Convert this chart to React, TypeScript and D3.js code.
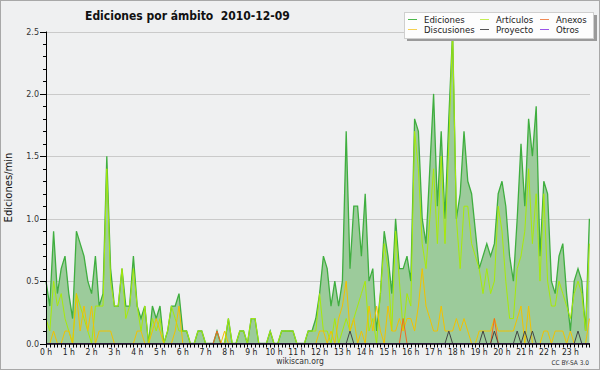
import React, { useEffect } from "react";
import * as d3 from "d3";

// 10-minute bins, values in edits per minute
const ediciones = [
  0.5, 0.3, 0.9, 0.4, 0.6, 0.7, 0.4, 0.2, 0.9, 0.8,
  0.7, 0.5, 0.4, 0.7, 0.3, 0.4, 1.5, 0.6, 0.3, 0.3,
  0.6, 0.3, 0.3, 0.7, 0.3, 0.2, 0.3, 0, 0.3, 0.2,
  0.3, 0, 0.1, 0.3, 0.3, 0.4, 0.1, 0.1, 0, 0,
  0.1, 0.1, 0, 0, 0, 0.1, 0, 0, 0.2, 0,
  0, 0.1, 0.1, 0, 0.2, 0.2, 0, 0, 0, 0.1,
  0, 0, 0.1, 0.1, 0.1, 0.1, 0, 0, 0, 0.1,
  0.1, 0.2, 0.4, 0.7, 0.6, 0.3, 0.5, 0.3, 0.5, 1.7,
  0.6, 1.1, 1.1, 0.7, 1.2, 0.5, 0.6, 0.1, 0.4, 0.9,
  0.7, 0.4, 1.0, 0.6, 0.6, 0.7, 0.5, 1.8, 1.7, 1.0,
  0.8, 1.4, 2.0, 1.1, 1.7, 1.0, 1.8, 2.5, 1.0, 1.2,
  1.7, 1.3, 1.2, 0.9, 0.6, 0.7, 0.8, 0.7, 0.8, 1.2,
  1.3, 1.1, 0.7, 0.5, 1.0, 1.6, 1.1, 1.8, 1.5, 1.9,
  0.7, 1.3, 1.2, 0.5, 0.4, 0.7, 0.8, 0.4, 0.1, 0.5,
  0.6, 0.5, 0.1, 1.0,
];

const articulos = [
  0.2, 0.1, 0.5, 0.3, 0.4, 0.2, 0.1, 0, 0.4, 0.3,
  0.2, 0.1, 0, 0.3, 0.3, 0.3, 1.4, 0.5, 0.3, 0.3,
  0.6, 0.2, 0.3, 0.6, 0.3, 0.1, 0.3, 0, 0.2, 0.1,
  0.2, 0, 0.1, 0.3, 0.2, 0.1, 0.1, 0.1, 0, 0,
  0.1, 0.1, 0, 0, 0, 0, 0, 0, 0.2, 0,
  0, 0.1, 0.1, 0, 0.2, 0.2, 0, 0, 0, 0.1,
  0, 0, 0.1, 0.1, 0.1, 0.1, 0, 0, 0, 0.1,
  0.1, 0.1, 0.4, 0.1, 0.1, 0, 0.2, 0, 0.1, 0.2,
  0.1, 0.2, 0.3, 0.4, 0.5, 0.1, 0.2, 0, 0.4, 0.8,
  0.6, 0.1, 0.9, 0.5, 0.1, 0.4, 0.3, 1.7, 1.4, 0.8,
  0.6, 1.0, 1.4, 0.8, 1.5, 0.8, 1.6, 2.5, 1.0, 0.6,
  1.1, 1.1, 0.8, 0.7, 0.6, 0.4, 0.6, 0.4, 0.5, 1.1,
  0.9, 0.5, 0.2, 0.2, 0.6, 0.7, 0.9, 1.4, 0.8, 1.2,
  0.5, 1.2, 0.5, 0.3, 0.3, 0.5, 0.4, 0.3, 0.2, 0.4,
  0.5, 0.4, 0.1, 0.8,
];

const discusiones = [
  0, 0, 0.1, 0, 0, 0.1, 0.1, 0, 0.4, 0.1,
  0.3, 0.1, 0.3, 0, 0.1, 0.1, 0.1, 0.1, 0, 0,
  0, 0, 0, 0, 0.1, 0.1, 0, 0, 0.1, 0.2,
  0.1, 0, 0, 0, 0.1, 0.3, 0, 0, 0, 0,
  0, 0, 0, 0, 0, 0, 0, 0.1, 0, 0,
  0, 0, 0, 0, 0, 0, 0, 0, 0, 0,
  0, 0, 0, 0, 0, 0, 0, 0, 0, 0,
  0, 0, 0.1, 0.1, 0, 0.1, 0, 0.2, 0.3, 0.5,
  0.1, 0.2, 0, 0.1, 0, 0.3, 0.1, 0.3, 0.1, 0,
  0.3, 0.1, 0.1, 0.2, 0.1, 0.2, 0.2, 0.1, 0.3, 0.6,
  0.3, 0.2, 0.1, 0.1, 0.3, 0.1, 0.1, 0.1, 0.2, 0.1,
  0.2, 0.1, 0, 0, 0.1, 0.1, 0.1, 0.1, 0.2, 0.1,
  0.1, 0.1, 0.1, 0.1, 0.2, 0.3, 0, 0.3, 0, 0,
  0, 0.1, 0.1, 0, 0.1, 0.1, 0.1, 0, 0.1, 0,
  0, 0, 0, 0.2,
];

const anexos = [
  0, 0, 0, 0, 0, 0, 0, 0, 0, 0,
  0, 0, 0, 0, 0, 0, 0, 0, 0, 0,
  0, 0, 0, 0, 0, 0, 0, 0, 0, 0,
  0, 0, 0, 0, 0, 0, 0, 0, 0, 0,
  0, 0, 0, 0, 0, 0.1, 0, 0, 0, 0,
  0, 0, 0, 0, 0, 0, 0, 0, 0, 0,
  0, 0, 0, 0, 0, 0, 0, 0, 0, 0,
  0, 0, 0, 0, 0, 0, 0, 0, 0, 0,
  0, 0, 0, 0, 0, 0, 0, 0, 0, 0,
  0, 0, 0, 0, 0.2, 0, 0, 0, 0, 0,
  0, 0, 0, 0, 0, 0, 0, 0, 0, 0,
  0, 0, 0, 0, 0, 0, 0, 0, 0.2, 0,
  0, 0, 0, 0, 0, 0, 0, 0, 0, 0,
  0, 0, 0, 0, 0, 0, 0, 0, 0, 0,
  0, 0, 0, 0,
];

const proyecto = [
  0, 0, 0, 0, 0, 0, 0, 0, 0, 0,
  0, 0, 0, 0, 0, 0, 0, 0, 0, 0,
  0, 0, 0, 0, 0, 0, 0, 0, 0, 0,
  0, 0, 0, 0, 0, 0, 0, 0, 0, 0,
  0, 0, 0, 0, 0, 0, 0, 0, 0, 0,
  0, 0, 0, 0, 0, 0, 0, 0, 0, 0,
  0, 0, 0, 0, 0, 0, 0, 0, 0, 0,
  0, 0, 0, 0, 0, 0, 0, 0, 0, 0,
  0.1, 0, 0, 0, 0, 0, 0, 0, 0, 0,
  0, 0, 0, 0, 0, 0, 0, 0, 0, 0,
  0, 0, 0, 0, 0, 0, 0.1, 0, 0, 0,
  0, 0, 0, 0, 0, 0.1, 0, 0, 0.1, 0,
  0, 0, 0, 0, 0.1, 0, 0.1, 0, 0.1, 0,
  0, 0, 0, 0, 0, 0, 0, 0, 0, 0,
  0.1, 0, 0, 0,
];

const otros = [
  0, 0, 0, 0, 0, 0, 0, 0, 0, 0,
  0, 0, 0, 0, 0, 0, 0, 0, 0, 0,
  0, 0, 0, 0, 0, 0, 0, 0, 0, 0,
  0, 0, 0, 0, 0, 0, 0, 0, 0, 0,
  0, 0, 0, 0, 0, 0, 0, 0, 0, 0,
  0, 0, 0, 0, 0, 0, 0, 0, 0, 0,
  0, 0, 0, 0, 0, 0, 0, 0, 0, 0,
  0, 0, 0, 0, 0, 0, 0, 0, 0, 0,
  0, 0, 0, 0, 0, 0, 0, 0, 0, 0,
  0, 0, 0, 0, 0, 0, 0, 0, 0, 0,
  0, 0, 0, 0, 0, 0, 0, 0, 0, 0,
  0, 0, 0, 0, 0, 0, 0, 0, 0, 0,
  0, 0, 0, 0, 0, 0, 0, 0, 0, 0,
  0, 0, 0, 0, 0, 0, 0, 0, 0, 0,
  0, 0, 0, 0,
];

const hourLabels = [
  "0 h", "1 h", "2 h", "3 h", "4 h", "5 h", "6 h", "7 h", "8 h", "9 h", "10 h", "11 h",
  "12 h", "13 h", "14 h", "15 h", "16 h", "17 h", "18 h", "19 h", "20 h", "21 h", "22 h", "23 h",
];
const yTicks = [0, 0.5, 1.0, 1.5, 2.0, 2.5];

const series = [
  { name: "Artículos", values: articulos, color: "#a8ea0a" },
  { name: "Discusiones", values: discusiones, color: "#f2c200" },
  { name: "Anexos", values: anexos, color: "#f06a22" },
  { name: "Proyecto", values: proyecto, color: "#444444" },
  { name: "Otros", values: otros, color: "#9040e0" },
];

const legendItems = [
  { name: "Ediciones", color: "#4cb84c" },
  { name: "Artículos", color: "#c4ee55" },
  { name: "Anexos", color: "#f08a55" },
  { name: "Discusiones", color: "#f5d050" },
  { name: "Proyecto", color: "#555555" },
  { name: "Otros", color: "#9a55e8" },
];

// condensed face where installed, plain DejaVu otherwise
const FONT = "'DejaVu Sans Condensed', 'DejaVu Sans', Verdana, sans-serif";
const FONT_REG = "'DejaVu Sans', Verdana, sans-serif";

export default function App() {
  useEffect(() => {
    document.body.style.margin = "0";
  }, []);

  const width = 600;
  const height = 370;
  const x = d3.scaleLinear().domain([0, 24]).range([46, 593.2]);
  const y = d3.scaleLinear().domain([0, 2.5]).range([343.5, 31.5]);
  const t = (i: number) => i / 6;

  const line = d3
    .line<number>()
    .x((_, i) => x(t(i)))
    .y((d) => y(d));
  const area = d3
    .area<number>()
    .x((_, i) => x(t(i)))
    .y0(y(0))
    .y1((d) => y(d));

  const xEnd = x(t(ediciones.length - 1)) + 0.6;
  const minorY = d3.range(26).map((k) => k / 10);

  return (
    <svg
      width={width}
      height={height}
      style={{ display: "block", fontFamily: FONT, fontStretch: "condensed" }}
    >
      <rect x={0.5} y={0.5} width={width - 1} height={height - 1} fill="#eff0f1" stroke="#a8a8a8" />

      {/* grid */}
      {yTicks.slice(1).map((v) => (
        <line key={v} x1={x(0)} x2={xEnd} y1={Math.round(y(v)) + 0.5} y2={Math.round(y(v)) + 0.5} stroke="#cacaca" />
      ))}

      {/* total edits area + line */}
      <path d={area(ediciones) || ""} fill="#9ccb9b" />
      <path d={line(ediciones) || ""} fill="none" stroke="#3fae3f" strokeWidth={1.3} />
      {series.map((s) => (
        <path key={s.name} d={line(s.values) || ""} fill="none" stroke={s.color} strokeWidth={1} />
      ))}

      {/* y axis */}
      <line x1={46.5} x2={46.5} y1={y(2.5)} y2={y(0) + 0.5} stroke="#000" />
      {minorY.map((v) => (
        <line key={v} x1={43} x2={46.5} y1={Math.round(y(v)) + 0.5} y2={Math.round(y(v)) + 0.5} stroke="#000" />
      ))}
      {yTicks.map((v) => (
        <g key={v} transform={`translate(0, ${Math.round(y(v)) + 0.5})`}>
          <line x1={40} x2={46.5} stroke="#000" />
          <text
            x={39}
            dy="0.35em"
            textAnchor="end"
            fontSize={8}
            fill="#333"
            style={{ fontFamily: FONT_REG, fontStretch: "normal" }}
          >
            {v.toFixed(1)}
          </text>
        </g>
      ))}

      {/* x axis */}
      <line x1={46} x2={xEnd} y1={344} y2={344} stroke="#000" strokeWidth={1.4} />
      {ediciones.map((_, i) => (
        <line key={i} x1={Math.round(x(t(i))) + 0.5} x2={Math.round(x(t(i))) + 0.5} y1={344} y2={347.5} stroke="#000" />
      ))}
      {hourLabels.map((lab, h) => (
        <text key={lab} x={x(h)} y={354.5} textAnchor="middle" fontSize={8.5} fill="#222">
          {lab}
        </text>
      ))}

      {/* titles */}
      <text x={85} y={19.5} fontSize={12} fontWeight="bold" fill="#111" style={{ whiteSpace: "pre" }}>
        {"Ediciones por ámbito  2010-12-09"}
      </text>
      <text
        transform={`translate(12, ${y(1.25)}) rotate(-90)`}
        textAnchor="middle"
        fontSize={10}
        fill="#111"
        style={{ fontFamily: FONT_REG, fontStretch: "normal" }}
      >
        Ediciones/min
      </text>
      <text x={300} y={363.5} textAnchor="middle" fontSize={8.5} fill="#333">
        wikiscan.org
      </text>
      <text x={589} y={364.5} textAnchor="end" fontSize={6.5} fill="#333">
        CC BY-SA 3.0
      </text>

      {/* legend */}
      <rect x={407} y={15} width={190} height={26} fill="#9a9a9a" />
      <rect x={404.5} y={12.5} width={189} height={26} fill="#fdfdfd" stroke="#cfcfcf" />
      {legendItems.map((it, k) => {
        const colX = [408, 480, 540][k % 3];
        const rowY = [19.5, 29.5][Math.floor(k / 3)];
        return (
          <g key={it.name}>
            <line x1={colX} x2={colX + 9} y1={rowY} y2={rowY} stroke={it.color} />
            <text x={colX + 16} y={rowY} dy="0.35em" fontSize={9.5} fill="#222">
              {it.name}
            </text>
          </g>
        );
      })}
    </svg>
  );
}
